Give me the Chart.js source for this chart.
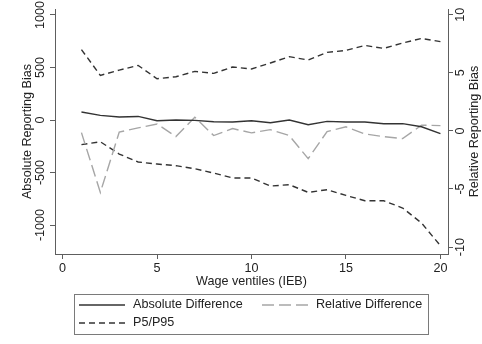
<!DOCTYPE html>
<html>
<head>
<meta charset="utf-8">
<script src="https://cdn.jsdelivr.net/npm/chart.js@4.4.0/dist/chart.umd.min.js"></script>
<style>
  html, body { margin: 0; padding: 0; background: #fff; }
  #biasChart { display: block; }
</style>
</head>
<body>
<canvas id="biasChart" width="482" height="344"></canvas>
<script>
// wage ventiles and reporting bias by ventile
var ventiles = [1, 2, 3, 4, 5, 6, 7, 8, 9, 10, 11, 12, 13, 14, 15, 16, 17, 18, 19, 20];
var absDiff = [76, 44, 29, 34, -7, 0, -4, -16, -19, -7, -26, 0, -45, -13, -19, -19, -35, -35, -64, -130];
var relDiff = [-0.15, -5.3, -0.1, 0.26, 0.6, -0.49, 1.18, -0.4, 0.2, -0.17, 0.11, -0.4, -2.39, -0.06, 0.35, -0.26, -0.49, -0.66, 0.49, 0.46];
var p95 = [670, 425, 475, 520, 393, 412, 463, 444, 505, 486, 543, 603, 571, 644, 663, 710, 682, 733, 777, 746];
var p5 = [-235, -207, -324, -400, -419, -435, -464, -505, -552, -552, -629, -616, -689, -664, -718, -769, -769, -838, -981, -1197];

var xTicks = [0, 5, 10, 15, 20];
var leftTicks = [-1000, -500, 0, 500, 1000];
var rightTicks = [-10, -5, 0, 5, 10];

var axisColor = '#5e5e5e';
var textColor = '#222';
var font = '12.6px "Liberation Sans", Arial, sans-serif';

function pts(vals) {
  return ventiles.map(function (v, i) { return { x: v, y: vals[i] }; });
}

function fixTicks(list) {
  return function (scale) {
    scale.ticks = list.map(function (v) { return { value: v }; });
  };
}

function axisOpts(extra) {
  var o = {
    type: 'linear',
    ticks: { display: false },
    grid: { drawOnChartArea: false, drawTicks: true, tickLength: 5, color: axisColor, lineWidth: 1 },
    border: { display: true, color: axisColor, width: 1 }
  };
  for (var k in extra) o[k] = extra[k];
  return o;
}

// rotated tick labels, axis titles and the boxed legend
var labelsPlugin = {
  id: 'stataLabels',
  afterDraw: function (chart) {
    var ctx = chart.ctx;
    var sx = chart.scales.x, sl = chart.scales.y, sr = chart.scales.y2;
    var area = chart.chartArea;
    var midY = (area.top + area.bottom) / 2;
    ctx.save();
    ctx.font = font;
    ctx.fillStyle = textColor;
    ctx.textAlign = 'center';
    ctx.textBaseline = 'middle';

    function vtext(txt, x, y) {
      ctx.save();
      ctx.translate(x, y);
      ctx.rotate(-Math.PI / 2);
      ctx.fillText(txt, 0, 0);
      ctx.restore();
    }

    leftTicks.forEach(function (v) { vtext(String(v), 41, sl.getPixelForValue(v)); });
    rightTicks.forEach(function (v) { vtext(String(v), 461, sr.getPixelForValue(v)); });
    xTicks.forEach(function (v) { ctx.fillText(String(v), sx.getPixelForValue(v), 269); });

    vtext('Absolute Reporting Bias', 28, midY);
    vtext('Relative Reporting Bias', 475, midY);
    ctx.fillText('Wage ventiles (IEB)', (area.left + area.right) / 2, 282);

    // legend
    ctx.strokeStyle = '#7a7a7a';
    ctx.lineWidth = 1;
    ctx.strokeRect(74.5, 294.5, 354, 40);

    function sample(x0, y, color, dash) {
      ctx.save();
      ctx.strokeStyle = color;
      ctx.lineWidth = 1.4;
      ctx.setLineDash(dash);
      ctx.beginPath();
      ctx.moveTo(x0, y);
      ctx.lineTo(x0 + 46, y);
      ctx.stroke();
      ctx.restore();
    }
    ctx.textAlign = 'left';
    sample(79, 305, '#333', []);
    ctx.fillText('Absolute Difference', 133, 305);
    sample(262, 305, '#a6a6a6', [12, 5]);
    ctx.fillText('Relative Difference', 316, 305);
    sample(79, 323, '#333', [6, 4]);
    ctx.fillText('P5/P95', 133, 323);
    ctx.restore();
  }
};

new Chart(document.getElementById('biasChart').getContext('2d'), {
  type: 'line',
  data: {
    datasets: [
      {
        label: 'Absolute Difference',
        data: pts(absDiff),
        yAxisID: 'y',
        borderColor: '#333',
        borderWidth: 1.4
      },
      {
        label: 'Relative Difference',
        data: pts(relDiff),
        yAxisID: 'y2',
        borderColor: '#a6a6a6',
        borderWidth: 1.4,
        borderDash: [12, 5]
      },
      {
        label: 'P5/P95',
        data: pts(p95),
        yAxisID: 'y',
        borderColor: '#333',
        borderWidth: 1.4,
        borderDash: [6, 4]
      },
      {
        label: 'P5',
        data: pts(p5),
        yAxisID: 'y',
        borderColor: '#333',
        borderWidth: 1.4,
        borderDash: [6, 4]
      }
    ]
  },
  options: {
    responsive: false,
    animation: false,
    devicePixelRatio: 1,
    layout: { padding: { top: 9, left: 0, right: 0, bottom: 0 } },
    elements: { point: { radius: 0 }, line: { tension: 0, fill: false } },
    plugins: { legend: { display: false }, tooltip: { enabled: false } },
    scales: {
      x: axisOpts({
        position: 'bottom', min: -0.4, max: 20.4,
        afterBuildTicks: fixTicks(xTicks),
        afterFit: function (s) { s.height = 90; }
      }),
      y: axisOpts({
        position: 'left', min: -1276, max: 1057,
        afterBuildTicks: fixTicks(leftTicks),
        afterFit: function (s) { s.width = 55; }
      }),
      y2: axisOpts({
        position: 'right', min: -10.6, max: 10.5,
        afterBuildTicks: fixTicks(rightTicks),
        afterFit: function (s) { s.width = 34; }
      })
    }
  },
  plugins: [labelsPlugin]
});
</script>
</body>
</html>
